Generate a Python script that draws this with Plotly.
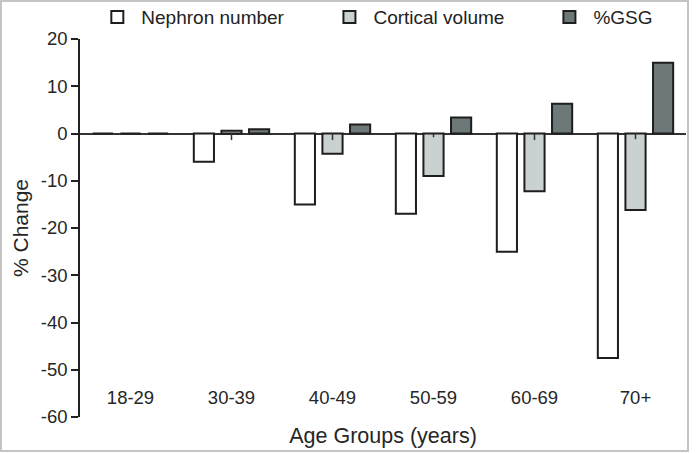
import plotly.graph_objects as go

age_groups = ["18-29", "30-39", "40-49", "50-59", "60-69", "70+"]
nephron_number = [0, -6, -15, -17, -25, -47.5]
cortical_volume = [0, 0.6, -4.3, -9, -12.2, -16.2]
gsg_pct = [0, 0.9, 1.9, 3.4, 6.3, 15]
cortical_tick = [0, 1.4, 1.4, 0.8, 1.4, 1.2]
y_ticks = [-60, -50, -40, -30, -20, -10, 0, 10, 20]

outline = dict(color="#1e1e1e", width=2)
font = "Liberation Sans, Arial, sans-serif"
txt = "#262626"

fig = go.Figure()
fig.add_trace(go.Bar(x=age_groups, y=nephron_number, name="Nephron number", offsetgroup="a",
                     legend="legend", marker=dict(color="#ffffff", line=outline)))
fig.add_trace(go.Bar(x=age_groups, y=cortical_volume, name="Cortical volume", offsetgroup="b",
                     legend="legend2", marker=dict(color="#c9d1d1", line=outline)))
fig.add_trace(go.Bar(x=age_groups, y=[0] * len(age_groups), offsetgroup="b", showlegend=False,
                     hoverinfo="skip", marker=dict(color="rgba(0,0,0,0)", line=dict(width=0)),
                     error_y=dict(type="data", symmetric=False, array=[0] * len(age_groups),
                                  arrayminus=cortical_tick, width=0, thickness=1.5, color="#333")))
fig.add_trace(go.Bar(x=age_groups, y=gsg_pct, name="%GSG", offsetgroup="c",
                     legend="legend3", marker=dict(color="#6d7979", line=outline)))

leg_common = dict(orientation="h", y=1.058, xanchor="left", yanchor="middle", itemwidth=38,
                  font=dict(size=19, color="#222"), bgcolor="rgba(0,0,0,0)")

fig.update_layout(
    width=696, height=453,
    margin=dict(l=80, r=10, t=39, b=36, autoexpand=False),
    plot_bgcolor="white", paper_bgcolor="white",
    barmode="group", bargap=0.18, bargroupgap=0.27,
    font=dict(family=font, color=txt),
    showlegend=True,
    legend=dict(x=0.022, **leg_common),
    legend2=dict(x=0.405, **leg_common),
    legend3=dict(x=0.768, **leg_common),
    xaxis=dict(type="category", anchor="free", position=0.085,
               ticks="", showline=False, showgrid=False, zeroline=False, automargin=False,
               tickfont=dict(size=18.5, color=txt),
               title=dict(text="Age Groups (years)", font=dict(size=21.5, color=txt), standoff=20)),
    yaxis=dict(range=[-60, 20], tickvals=y_ticks, ticktext=[str(v) for v in y_ticks],
               ticks="outside", ticklen=7, tickwidth=1.5,
               tickcolor="#222", showline=True, linewidth=1.5, linecolor="#222",
               showgrid=False, zeroline=True, zerolinecolor="#333", zerolinewidth=1.5,
               automargin=False, tickfont=dict(size=18.5, color=txt),
               title=dict(text="% Change", font=dict(size=21, color=txt), standoff=6)),
    shapes=[dict(type="rect", xref="paper", yref="paper",
                 x0=(1 - 80) / 606, x1=(688 - 80) / 606,
                 y0=(417 - 451) / 378, y1=(417 - 1) / 378,
                 line=dict(color="#c4c4c4", width=2), layer="below")],
)

fig.write_html("out.html", config={"displayModeBar": False},
               post_script="document.body.style.margin='0';document.body.style.overflow='hidden';")
